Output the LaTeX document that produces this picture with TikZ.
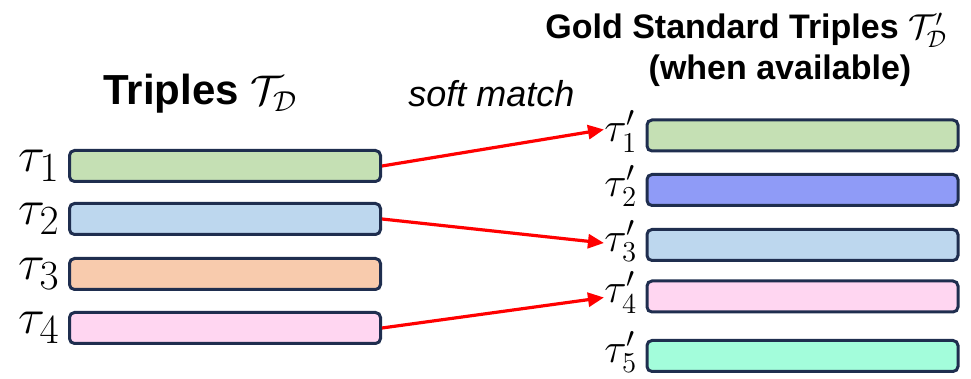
\documentclass[tikz,border=0pt]{standalone}
\usepackage{fontspec}
\setsansfont{Liberation Sans}
\usetikzlibrary{arrows.meta,positioning}

\definecolor{tgreen}{HTML}{C5E0B4}
\definecolor{tpurple}{HTML}{8F9BF7}
\definecolor{tblue}{HTML}{BDD7EE}
\definecolor{torange}{HTML}{F8CBAD}
\definecolor{tpink}{HTML}{FFD6F1}
\definecolor{tmint}{HTML}{A3FDDB}
\definecolor{tborder}{HTML}{1F2E4F}

\tikzset{
  triple/.style={draw=tborder,line width=1.5pt,rounded corners=2.5pt,
    minimum width=155.5pt,minimum height=15.5pt,inner sep=0pt},
  tlabel/.style={inner sep=0pt,font=\fontsize{30}{34}\selectfont},
  glabel/.style={inner sep=0pt,yshift=2pt,font=\fontsize{22}{26}\selectfont},
  match/.style={red,line width=1.6pt,-{Triangle[length=8pt,width=7pt]}}
}

\begin{document}
\begin{tikzpicture}[x=0.5pt,y=-0.5pt]
\useasboundingbox (0,0) rectangle (971,379);

% headings
\node[anchor=base west,inner sep=0pt,font=\sffamily\bfseries\fontsize{21}{25}\selectfont]
  (lhead) at (103,105) {Triples $\mathcal{T}_{\mathcal{D}}$};
\node[anchor=base west,inner sep=0pt,font=\sffamily\bfseries\fontsize{17}{20}\selectfont]
  (rhead) at (545,39) {Gold Standard Triples $\mathcal{T}'_{\mathcal{D}}$};
\node[anchor=base,inner sep=0pt,font=\sffamily\bfseries\fontsize{17}{20}\selectfont]
  (rnote) at (780,80) {(when available)};
\node[anchor=base west,inner sep=0pt,font=\sffamily\itshape\fontsize{18}{21}\selectfont]
  (soft) at (408,107) {soft match};

% predicted triples
\foreach \i/\y/\col in {1/166/tgreen,2/219/tblue,3/274/torange,4/328/tpink} {
  \node[triple,fill=\col] (l\i) at (225,\y) {};
  \node[tlabel,left=4pt of l\i] (lt\i) {$\tau_{\i}$};
}

% gold standard triples
\foreach \i/\y/\col in {1/135.5/tgreen,2/190/tpurple,3/245/tblue,4/296.5/tpink,5/356/tmint} {
  \node[triple,fill=\col] (r\i) at (802.5,\y) {};
  \node[glabel,left=4pt of r\i] (rt\i) {$\tau'_{\i}$};
}

\draw[match] (l1.east) -- ([yshift=1pt]rt1.west);
\draw[match] (l2.east) -- ([yshift=-1pt]rt3.west);
\draw[match] (l4.east) -- ([yshift=-2.5pt]rt4.west);

\end{tikzpicture}
\end{document}
